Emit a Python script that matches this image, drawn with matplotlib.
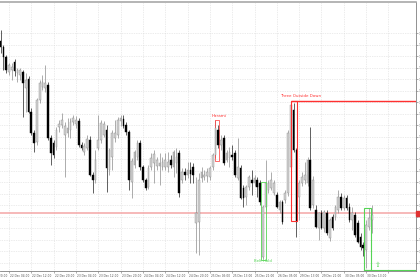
import numpy as np
import matplotlib.pyplot as plt
from matplotlib.patches import Rectangle

# H1 bars, bar index 0 = "22 Dec 04:00"
first_bar = -3
opens = [1.3230, 1.3224, 1.3214, 1.3199, 1.3201, 1.3209, 1.3198, 1.3196, 1.3199, 1.3183,
         1.3192, 1.3159, 1.3138, 1.3129, 1.3171, 1.3184, 1.3183, 1.3186, 1.3133, 1.3128,
         1.3124, 1.3144, 1.3146, 1.3136, 1.3138, 1.3141, 1.3149, 1.3147, 1.3150, 1.3126,
         1.3119, 1.3123, 1.3131, 1.3096, 1.3091, 1.3123, 1.3131, 1.3136, 1.3141, 1.3101,
         1.3114, 1.3133, 1.3136, 1.3150, 1.3152, 1.3146, 1.3139, 1.3089, 1.3106, 1.3114,
         1.3128, 1.3104, 1.3091, 1.3084, 1.3104, 1.3108, 1.3105, 1.3105, 1.3104, 1.3104,
         1.3104, 1.3111, 1.3104, 1.3108, 1.3118, 1.3091, 1.3099, 1.3096, 1.3101, 1.3104,
         1.3048, 1.3049, 1.3093, 1.3094, 1.3095, 1.3094, 1.3104, 1.3116, 1.3141, 1.3126,
         1.3133, 1.3111, 1.3113, 1.3116, 1.3118, 1.3093, 1.3103, 1.3083, 1.3074, 1.3084,
         1.3091, 1.3088, 1.3091, 1.3088, 1.3014, 1.3064, 1.3081, 1.3083, 1.3078, 1.3076,
         1.3061, 1.3069, 1.3071, 1.3078, 1.3104, 1.3161, 1.3121, 1.3074, 1.3088, 1.3091,
         1.3088, 1.3111, 1.3066, 1.3061, 1.3043, 1.3058, 1.3043, 1.3058, 1.3033, 1.3054,
         1.3054, 1.3061, 1.3074, 1.3063, 1.3073, 1.3064, 1.3051, 1.3056, 1.3048, 1.3034,
         1.3026, 1.3021, 1.3044, 1.3051]
highs = [1.3241, 1.3226, 1.3216, 1.3208, 1.3208, 1.3212, 1.3203, 1.3203, 1.3201, 1.3198,
         1.3195, 1.3163, 1.3141, 1.3173, 1.3191, 1.3196, 1.3206, 1.3189, 1.3136, 1.3131,
         1.3144, 1.3151, 1.3158, 1.3149, 1.3153, 1.3153, 1.3156, 1.3155, 1.3153, 1.3129,
         1.3128, 1.3136, 1.3135, 1.3099, 1.3121, 1.3156, 1.3151, 1.3150, 1.3146, 1.3123,
         1.3141, 1.3151, 1.3154, 1.3156, 1.3156, 1.3149, 1.3141, 1.3113, 1.3121, 1.3131,
         1.3131, 1.3106, 1.3093, 1.3106, 1.3118, 1.3121, 1.3114, 1.3118, 1.3114, 1.3118,
         1.3119, 1.3116, 1.3121, 1.3123, 1.3121, 1.3103, 1.3103, 1.3109, 1.3109, 1.3108,
         1.3094, 1.3098, 1.3104, 1.3101, 1.3103, 1.3105, 1.3118, 1.3151, 1.3146, 1.3136,
         1.3136, 1.3121, 1.3124, 1.3126, 1.3121, 1.3133, 1.3106, 1.3086, 1.3086, 1.3096,
         1.3101, 1.3096, 1.3094, 1.3091, 1.3066, 1.3111, 1.3091, 1.3099, 1.3091, 1.3079,
         1.3071, 1.3071, 1.3081, 1.3141, 1.3170, 1.3168, 1.3123, 1.3091, 1.3099, 1.3109,
         1.3114, 1.3144, 1.3095, 1.3066, 1.3059, 1.3061, 1.3061, 1.3061, 1.3053, 1.3057,
         1.3066, 1.3081, 1.3078, 1.3076, 1.3076, 1.3068, 1.3064, 1.3059, 1.3051, 1.3038,
         1.3029, 1.3051, 1.3063, 1.3066]
lows = [1.3218, 1.3201, 1.3198, 1.3196, 1.3191, 1.3195, 1.3189, 1.3191, 1.3154, 1.3159,
        1.3158, 1.3136, 1.3119, 1.3126, 1.3168, 1.3181, 1.3179, 1.3131, 1.3106, 1.3113,
        1.3121, 1.3139, 1.3143, 1.3094, 1.3134, 1.3133, 1.3146, 1.3143, 1.3124, 1.3121,
        1.3116, 1.3121, 1.3095, 1.3078, 1.3088, 1.3121, 1.3128, 1.3134, 1.3079, 1.3096,
        1.3101, 1.3129, 1.3133, 1.3145, 1.3143, 1.3136, 1.3081, 1.3073, 1.3103, 1.3111,
        1.3101, 1.3089, 1.3081, 1.3082, 1.3101, 1.3088, 1.3101, 1.3086, 1.3101, 1.3101,
        1.3099, 1.3103, 1.3094, 1.3098, 1.3074, 1.3088, 1.3091, 1.3093, 1.3088, 1.3088,
        1.3018, 1.3016, 1.3089, 1.3091, 1.3089, 1.3091, 1.3101, 1.3113, 1.3123, 1.3121,
        1.3106, 1.3109, 1.3104, 1.3111, 1.3094, 1.3091, 1.3072, 1.3064, 1.3066, 1.3081,
        1.3076, 1.3085, 1.3074, 1.3066, 1.3012, 1.3061, 1.3078, 1.3081, 1.3076, 1.3063,
        1.3058, 1.3047, 1.3068, 1.3075, 1.3101, 1.3119, 1.3034, 1.3051, 1.3085, 1.3087,
        1.3085, 1.3061, 1.3063, 1.3043, 1.3031, 1.3042, 1.3039, 1.3036, 1.3030, 1.3041,
        1.3051, 1.3058, 1.3061, 1.3061, 1.3061, 1.3049, 1.3041, 1.3034, 1.3028, 1.3021,
        1.3015, 1.3003, 1.3041, 1.3038]
closes = [1.3224, 1.3214, 1.3201, 1.3206, 1.3204, 1.3200, 1.3201, 1.3201, 1.3188, 1.3191,
          1.3159, 1.3138, 1.3128, 1.3171, 1.3188, 1.3189, 1.3188, 1.3133, 1.3118, 1.3116,
          1.3141, 1.3147, 1.3151, 1.3145, 1.3143, 1.3149, 1.3153, 1.3151, 1.3126, 1.3123,
          1.3125, 1.3132, 1.3096, 1.3091, 1.3111, 1.3131, 1.3148, 1.3147, 1.3103, 1.3121,
          1.3138, 1.3138, 1.3151, 1.3153, 1.3145, 1.3139, 1.3091, 1.3110, 1.3119, 1.3128,
          1.3104, 1.3091, 1.3083, 1.3103, 1.3113, 1.3117, 1.3111, 1.3108, 1.3109, 1.3111,
          1.3109, 1.3106, 1.3119, 1.3114, 1.3078, 1.3099, 1.3096, 1.3101, 1.3097, 1.3096,
          1.3058, 1.3091, 1.3099, 1.3096, 1.3099, 1.3103, 1.3116, 1.3143, 1.3126, 1.3131,
          1.3108, 1.3118, 1.3119, 1.3114, 1.3096, 1.3104, 1.3073, 1.3073, 1.3084, 1.3094,
          1.3088, 1.3093, 1.3084, 1.3069, 1.3064, 1.3088, 1.3088, 1.3091, 1.3088, 1.3064,
          1.3069, 1.3049, 1.3078, 1.3138, 1.3166, 1.3121, 1.3049, 1.3088, 1.3094, 1.3096,
          1.3111, 1.3063, 1.3091, 1.3044, 1.3058, 1.3043, 1.3059, 1.3038, 1.3051, 1.3043,
          1.3064, 1.3074, 1.3063, 1.3073, 1.3063, 1.3051, 1.3058, 1.3036, 1.3029, 1.3024,
          1.3023, 1.3046, 1.3053, 1.3056]

time_labels = ["21 Dec 20:00", "22 Dec 04:00", "22 Dec 12:00", "22 Dec 20:00", "23 Dec 04:00",
               "23 Dec 12:00", "23 Dec 20:00", "24 Dec 04:00", "24 Dec 12:00", "24 Dec 20:00",
               "25 Dec 05:00", "25 Dec 13:00", "25 Dec 21:00", "26 Dec 05:00", "29 Dec 13:00",
               "29 Dec 21:00", "30 Dec 05:00", "30 Dec 13:00"]
label_bars = list(range(-8, 137, 8))

bid_level = 1.3058
tod_high, tod_low = 1.3170, 1.3050      # Three Outside Down, bars 101-103
harami_high, harami_low = 1.3151, 1.3110  # bars 74-75
belt1_high, belt1_low = 1.3089, 1.3011    # bar 91
belt2_high, belt2_low = 1.3063, 1.3001    # bars 128-129

idx = np.arange(first_bar, first_bar + len(closes))
o, h, l, c = (np.array(a) for a in (opens, highs, lows, closes))

W, H = 420, 280
XMIN, XMAX = -3.226, 145.7
fig = plt.figure(figsize=(W / 100, H / 100), dpi=100)
fig.patch.set_facecolor('white')
ax = fig.add_axes([0, 9 / H, 415.5 / W, 269.5 / H])

grid_y = np.arange(1.32377, 1.3000, -0.001147)
for yv in grid_y:
    ax.axhline(yv, color='#d9d9d9', lw=0.5, ls=(0, (1, 1.5)), zorder=0)
for b in label_bars:
    ax.axvline(b, color='#d9d9d9', lw=0.5, ls=(0, (1, 1.5)), zorder=0)

ax.axhline(bid_level, color='#f4a6a6', lw=1.1, zorder=1)

# candles: bull light grey, bear black
up = c >= o
ax.vlines(idx[up], l[up], h[up], color='#8c8c8c', lw=0.5, zorder=2)
ax.vlines(idx[~up], l[~up], h[~up], color='#202020', lw=0.5, zorder=2)
ax.bar(idx[up], (c - o)[up], bottom=o[up], width=0.6, color='#d2d2d2',
       edgecolor='#8c8c8c', lw=0.3, zorder=3)
ax.bar(idx[~up], (o - c)[~up], bottom=c[~up], width=0.6, color='black',
       edgecolor='black', lw=0.3, zorder=3)

# candle patterns
red = '#ff3030'
green = '#55d455'
ax.add_patch(Rectangle((100.9, tod_low), 2.3, tod_high - tod_low, fill=False,
                       ec=red, lw=0.8, zorder=4))
ax.plot([100.9, XMAX], [tod_high, tod_high], color=red, lw=1.0, zorder=4,
        solid_capstyle='butt')
ax.text(97.1, tod_high + 0.0003, "Three Outside Down", color=red, fontsize=2.9,
        va='bottom', ha='left')
ax.add_patch(Rectangle((73.8, harami_low), 1.6, harami_high - harami_low, fill=False,
                       ec=red, lw=0.5, zorder=2.5))
ax.text(72.6, harami_high + 0.0002, "Harami", color=red, fontsize=3.0, va='bottom', ha='left')
ax.add_patch(Rectangle((90.5, belt1_low), 1.6, belt1_high - belt1_low, fill=False,
                       ec=green, lw=0.6, zorder=4))
ax.text(87.8, belt1_low - 0.0001, "Belt Hold", color=green, fontsize=2.8, va='center', ha='left')
ax.add_patch(Rectangle((127.3, belt2_low), 2.3, belt2_high - belt2_low, fill=False,
                       ec=green, lw=0.8, zorder=4))
ax.plot([127.3, XMAX], [belt2_low, belt2_low], color=green, lw=0.8, zorder=4)
ax.text(132.3, 1.3006, "\u21e7", color=green, fontsize=5, ha='center', va='center')

ax.spines['left'].set_visible(False)
ax.spines['top'].set_color('#a8a8a8')
ax.spines['top'].set_linewidth(1.2)
ax.spines['right'].set_color('#808080')
ax.spines['bottom'].set_color('#808080')
ax.spines['right'].set_linewidth(0.6)
ax.spines['bottom'].set_linewidth(0.6)
ax.yaxis.tick_right()
ax.set_yticks(grid_y)
ax.yaxis.set_major_formatter(plt.FormatStrFormatter('%.4f'))
ax.tick_params(axis='y', length=1.6, width=0.4, colors='#707070', labelsize=2.2, pad=0.5)
ax.set_xticks(label_bars)
ax.set_xticklabels([])
ax.tick_params(axis='x', length=1.6, width=0.4, colors='#707070')
ax.set_xlim(XMIN, XMAX)
ax.set_ylim(1.3000, 1.32695)
tr = ax.get_xaxis_transform()
for b, t in zip(label_bars, time_labels):
    ax.text(b + 0.35, -0.012, t, transform=tr, fontsize=2.1, color='#505050',
            ha='left', va='top', clip_on=False)

# bid price marker on the price scale
fig.patches.append(Rectangle((415.8 / W, (280 - 216) / H), 4.5 / W, 5 / H,
                             transform=fig.transFigure, color='#e03030'))

fig.savefig('out.png', dpi=100)
